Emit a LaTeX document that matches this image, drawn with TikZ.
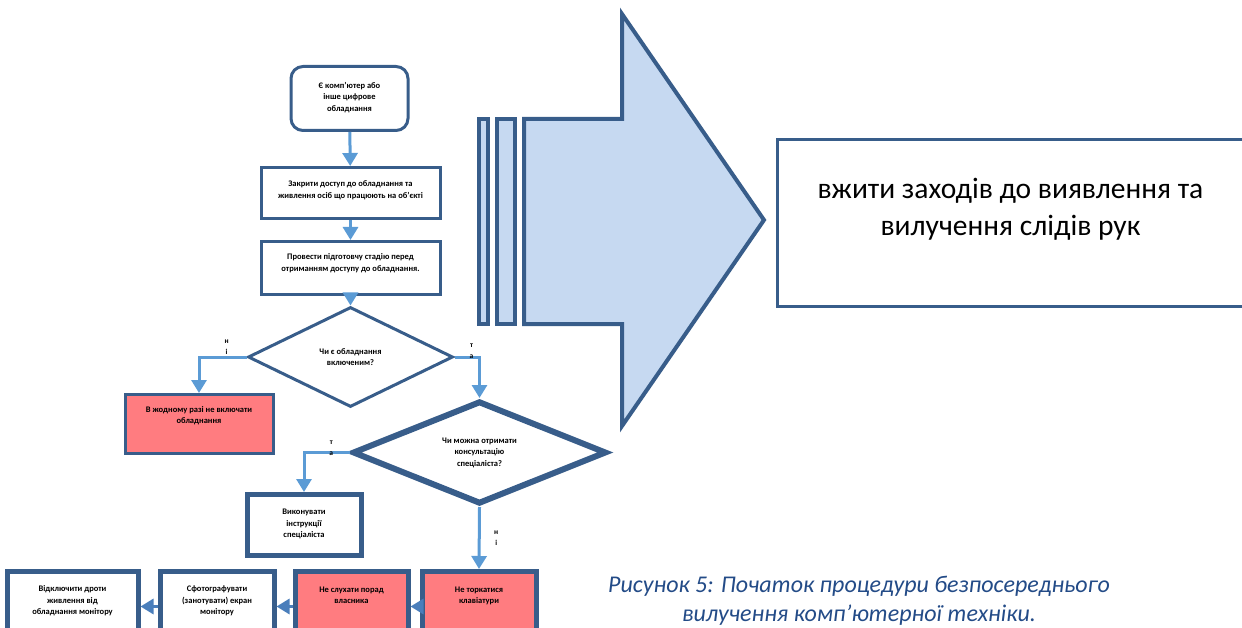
\documentclass[tikz,border=0pt]{standalone}
\usepackage{fontspec}
\setmainfont{Carlito}
\usetikzlibrary{shapes.geometric, arrows.meta, positioning}
\definecolor{edgeblue}{RGB}{56,93,138}
\definecolor{flowblue}{RGB}{91,155,213}
\definecolor{flowdark}{RGB}{74,126,187}
\definecolor{stopred}{RGB}{255,124,128}
\definecolor{lightarrow}{RGB}{198,217,241}
\definecolor{captionblue}{RGB}{35,75,135}

\begin{document}
\begin{tikzpicture}[x=1pt, y=-1pt,
  box/.style={draw=edgeblue, line width=3pt, fill=white, align=center, inner sep=0pt, anchor=north, font=\bfseries\fontsize{8.5}{11.5}\selectfont},
  stopbox/.style={box, fill=stopred},
  decision/.style={draw=edgeblue, line width=3pt, fill=white, diamond, aspect=2.4, inner sep=0pt, align=center, font=\bfseries\fontsize{8.5}{11.5}\selectfont},
  flow/.style={draw=flowblue, line width=3pt, -{Triangle[width=15pt,length=13pt]}},
  yesno/.style={font=\bfseries\fontsize{7.5}{11}\selectfont, align=center, inner sep=0pt}]
\useasboundingbox (0,0) rectangle (1242,628);

% Start
\node[box, rounded corners=12pt, minimum width=117pt, text height=45pt, text depth=19pt] (start) at (349.5,65) {Є комп’ютер або\\інше цифрове\\обладнання};

% Steps
\node[box, minimum width=179pt, text height=31pt, text depth=20pt] (close) at (350.5,166) {Закрити доступ до обладнання та\\живлення осіб що працюють на об’єкті};
\node[box, minimum width=179pt, text height=30pt, text depth=23pt] (prep) at (350.5,240) {Провести підготовчу стадію перед\\отриманням доступу до обладнання.};

% Decisions
\node[decision, minimum width=205pt, minimum height=100pt] (isOn) at (350.5,357) {Чи є обладнання\\включеним?};
\node[decision, line width=6pt, minimum width=254pt, minimum height=103pt] (askExpert) at (479.5,452.5) {Чи можна отримати\\консультацію\\спеціаліста?};

% Outcomes
\node[stopbox, minimum width=148pt, text height=29pt, text depth=30pt] (noPower) at (199,393) {В жодному разі не включати\\обладнання};
\node[box, line width=5pt, minimum width=114pt, text height=43pt, text depth=18pt] (expert) at (304,492) {Виконувати\\інструкції\\спеціаліста};

% Bottom row
\node[stopbox, line width=5pt, minimum width=114pt, text height=32pt, text depth=38pt] (noTouch) at (479,569) {Не торкатися\\клавіатури};
\node[stopbox, line width=5pt, minimum width=113pt, text height=32pt, text depth=38pt] (noAdvice) at (351.5,569) {Не слухати порад\\власника};
\node[box, line width=5pt, minimum width=114pt, text height=43pt, text depth=27pt] (photo) at (217,569) {Сфотографувати\\(занотувати) екран\\монітору};
\node[box, line width=5pt, minimum width=131pt, text height=43pt, text depth=27pt] (unplug) at (72.5,569) {Відключити дроти\\живлення від\\обладнання монітору};

% Connectors
\draw[flow] (start) -- (close);
\draw[flow] (close) -- (prep);
\draw[flow] (prep) -- (isOn.north);
\draw[flow] (isOn.west) -| node[yesno, pos=0.21, yshift=9.5pt] {н\\і} (noPower.north);
\draw[flow] (isOn.east) -| node[yesno, pos=0.34, yshift=6pt] {т\\а} (askExpert.north);
\draw[flow] (askExpert.west) -| node[yesno, pos=0.2, yshift=4pt] {т\\а} (expert.north);
\draw[flow] (askExpert.south) -- node[yesno, pos=0.5, xshift=17pt] {н\\і} (noTouch.north);
\draw[flow, draw=flowdark] (noTouch.west) -- (noAdvice.east);
\draw[flow, draw=flowdark] (noAdvice.west) -- (photo.east);
\draw[flow, draw=flowdark] (photo.west) -- (unplug.east);

% Big arrow
\draw[draw=edgeblue, line width=4pt, fill=lightarrow] (479,119) rectangle (488,324);
\draw[draw=edgeblue, line width=4pt, fill=lightarrow] (497,119) rectangle (515,324);
\draw[draw=edgeblue, line width=4pt, fill=lightarrow] (524,119) -- (622,119) -- (622,14) -- (764,220) -- (622,426) -- (622,324) -- (524,324) -- cycle;

% Goal
\node[draw=edgeblue, line width=3pt, fill=white, anchor=north, inner sep=0pt, minimum width=467pt, text height=96.5pt, text depth=70.5pt, align=center, font=\fontsize{29.5}{37}\selectfont] (goal) at (1010.5,138) {вжити заходів до виявлення та\\вилучення слідів рук};

% Caption
\node[align=center, text=captionblue, font=\itshape\fontsize{24}{29}\selectfont] (caption) at (859,601) {Рисунок 5: Початок процедури безпосереднього\\вилучення комп’ютерної техніки.};
\end{tikzpicture}
\end{document}
